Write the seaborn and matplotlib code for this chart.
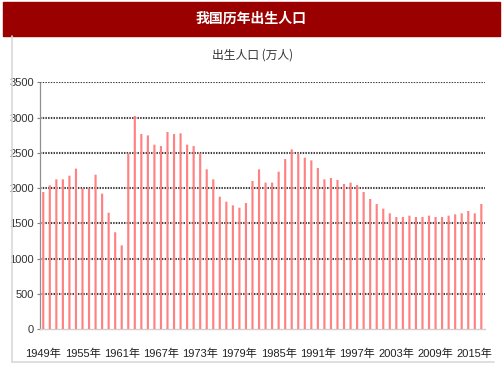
import matplotlib
matplotlib.use("Agg")
import matplotlib.pyplot as plt
import seaborn as sns
import pandas as pd
from matplotlib.lines import Line2D
from matplotlib.patches import Rectangle

years = list(range(1949, 2017))
births = [1946, 2041, 2126, 2126, 2178, 2277, 1998, 1998, 2192, 1923,
          1653, 1375, 1190, 2494, 3023, 2768, 2749, 2617, 2598, 2797,
          2768, 2778, 2617, 2598, 2494, 2268, 2126, 1880, 1809, 1757,
          1724, 1790, 2102, 2268, 2079, 2079, 2234, 2414, 2551, 2494,
          2433, 2395, 2286, 2126, 2145, 2116, 2060, 2079, 2045, 1946,
          1847, 1776, 1710, 1644, 1592, 1592, 1611, 1592, 1592, 1611,
          1592, 1592, 1611, 1630, 1644, 1677, 1644, 1776]
year_labels = [f"{y}年" for y in years]
tick_years = list(range(1949, 2017, 6))
yticks = [0, 500, 1000, 1500, 2000, 2500, 3000, 3500]

title = "我国历年出生人口"
subtitle = "出生人口 (万人)"

df = pd.DataFrame({"year": year_labels, "births": births})

sns.set_theme(style="white")
plt.rcParams['font.family'] = ['Liberation Sans Narrow', 'Liberation Sans', 'Noto Sans CJK SC', 'DejaVu Sans']

fig = plt.figure(figsize=(5.03, 3.78), dpi=100)
ax = fig.add_axes([40/503, 1-329.3/378, (484.6-40)/503, (329.3-82.4)/378])

sns.barplot(data=df, x="year", y="births", order=year_labels, color="#ff8282",
            saturation=1, width=0.33, ax=ax, zorder=3, linewidth=0)
for p in ax.patches:
    p.set_snap(False)
    p.set_antialiased(True)

ax.set_xlim(-0.5, len(years) - 0.5)
ax.set_ylim(0, 3500)
ax.set_yticks(yticks)
ax.set_yticklabels([str(v) for v in yticks], fontsize=8, color="#333333")
tick_pos = [year_labels.index(f"{y}年") for y in tick_years]
ax.set_xticks(tick_pos)
ax.set_xticklabels([f"{y}年" for y in tick_years], fontsize=8, color="#222222")
ax.tick_params(axis="x", length=0, pad=14)
ax.tick_params(axis="y", length=2.5, width=0.8, color="#808080", pad=2, left=True)
ax.set_xlabel("")
ax.set_ylabel("")

for v in yticks[1:]:
    ax.axhline(v, color="#404040", linewidth=1.5, linestyle=(0, (0.7, 0.6)), zorder=1)

for s in ["top", "right"]:
    ax.spines[s].set_visible(False)
ax.spines["left"].set_color("#909090")
ax.spines["left"].set_linestyle((0, (1, 1)))
ax.spines["left"].set_linewidth(0.9)
ax.spines["bottom"].set_color("#d0d0d0")
ax.spines["bottom"].set_linewidth(1.0)

# title bar
fig.patches.append(Rectangle((3/503, 1-35.7/378), (500-3)/503, (35.7-2)/378,
                             transform=fig.transFigure, color="#9b0000", zorder=0))
fig.text(251/503, 1-19/378, title, ha="center", va="center", color="white",
         fontsize=10, fontweight="bold", family=['Noto Sans CJK SC', 'DejaVu Sans'])

# panel border
fig.lines.append(Line2D([11.5/503, 11.5/503], [1-36/378, 1-361.7/378],
                        transform=fig.transFigure, color="#d9d9d9", linewidth=1.2))
fig.lines.append(Line2D([11.5/503, 494/503], [1-361.7/378, 1-361.7/378],
                        transform=fig.transFigure, color="#d9d9d9", linewidth=1.2))

fig.text(253/503, 1-55/378, subtitle, ha="center", va="center", color="#333333",
         fontsize=8.5, family=['Noto Sans CJK SC', 'DejaVu Sans'])

fig.savefig("out.png", dpi=100)
